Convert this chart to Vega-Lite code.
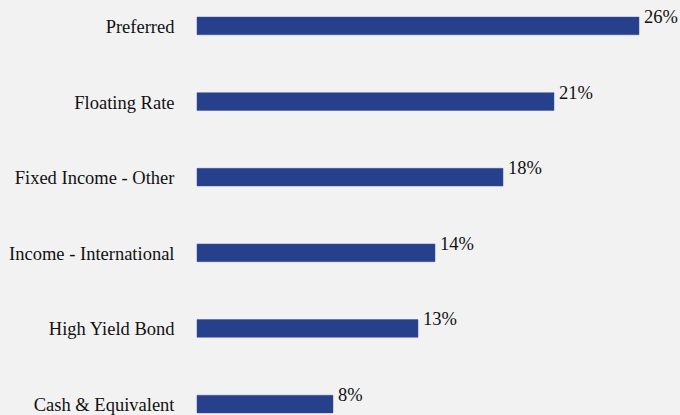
{
  "$schema": "https://vega.github.io/schema/vega-lite/v6.json",
  "autosize": {"type": "none"},
  "padding": {"left": 197, "top": 0, "right": 41, "bottom": 0},
  "width": 442,
  "height": 430,
  "background": "#f2f2f2",
  "config": {"view": {"stroke": null}, "font": "Liberation Serif"},
  "data": {"values": [
    {"category": "Preferred", "value": 0.26},
    {"category": "Floating Rate", "value": 0.21},
    {"category": "Fixed Income - Other", "value": 0.18},
    {"category": "Income - International", "value": 0.14},
    {"category": "High Yield Bond", "value": 0.13},
    {"category": "Cash & Equivalent", "value": 0.08}
  ]},
  "encoding": {
    "y": {"field": "category", "type": "nominal", "sort": null,
      "scale": {"paddingInner": 0.766, "paddingOuter": 0.2255},
      "axis": {"title": null, "domain": false, "ticks": false, "labelPadding": 23, "labelLimit": 0,
        "labelFont": "Liberation Serif", "labelFontSize": 18.5, "labelColor": "#111111",
        "labelBaseline": "alphabetic", "labelOffset": 7}},
    "x": {"field": "value", "type": "quantitative", "scale": {"domain": [0, 0.26], "nice": false, "zero": true}, "axis": null}
  },
  "layer": [
    {"mark": {"type": "bar", "color": "#27408b", "stroke": "#3a51a0", "strokeWidth": 0.5}},
    {"mark": {"type": "text", "align": "left", "baseline": "alphabetic", "dx": 5, "dy": -3,
      "font": "Liberation Serif", "fontSize": 18.5, "color": "#111111", "clip": false},
     "encoding": {"text": {"field": "value", "type": "quantitative", "format": ".0%"}}}
  ]
}
